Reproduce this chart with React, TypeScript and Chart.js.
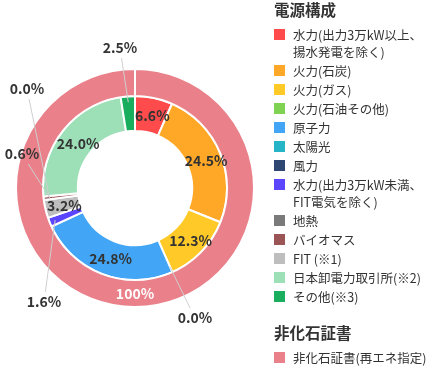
import React, { useEffect, useRef } from "react";
import { Chart, registerables } from "chart.js";

Chart.register(...registerables);

// ---- data (drawing order, clockwise from top) ----
const SOURCE_NAMES = [
  "水力(出力3万kW以上、\n揚水発電を除く)",
  "火力(石炭)",
  "火力(ガス)",
  "火力(石油その他)",
  "原子力",
  "太陽光",
  "風力",
  "水力(出力3万kW未満、\nFIT電気を除く)",
  "FIT (※1)",
  "地熱",
  "バイオマス",
  "日本卸電力取引所(※2)",
  "その他(※3)",
];
const SOURCE_VALUES: (number | null)[] = [6.6, 24.5, 12.3, 0.0, 24.8, null, null, 1.6, 3.2, 0.0, 0.6, 24.0, 2.5];
const SOURCE_COLORS = [
  "#FF4B4B", "#FFA726", "#FFCA28", "#7ED352", "#42A5F5", "#26B5C6", "#2E4672",
  "#5B45FF", "#BEBEBE", "#7A7A7A", "#9C5557", "#9DE0B8", "#18AE5E",
];
// legend order (indices into the arrays above)
const LEGEND_ORDER = [0, 1, 2, 3, 4, 5, 6, 7, 9, 10, 8, 11, 12];

const CERT_NAMES = ["非化石証書(再エネ指定)"];
const CERT_VALUES = [100];
const CERT_COLORS = ["#E9808A"];

const TITLE_SOURCES = "電源構成";
const TITLE_CERT = "非化石証書";

// labels placed outside with leader lines: index -> offset of label centre from chart centre
const OUTSIDE_LABELS: Record<number, [number, number]> = {
  12: [-15, -140],
  9: [-108, -99],
  10: [-113, -34],
  7: [-91, 114],
  3: [60, 130],
};

const FONT = "'Noto Sans CJK JP', 'Noto Sans', sans-serif";

const fmt = (v: number) => v.toFixed(1) + "%";

const labelPlugin = {
  id: "sliceLabels",
  afterDatasetsDraw(chart: any) {
    const ctx = chart.ctx;
    ctx.save();
    ctx.textAlign = "center";
    ctx.textBaseline = "middle";

    // outer ring label
    const outerMeta = chart.getDatasetMeta(0);
    outerMeta.data.forEach((arc: any, i: number) => {
      const p = arc.getCenterPoint();
      ctx.font = "bold 14px " + FONT;
      ctx.fillStyle = "#ffffff";
      ctx.fillText(CERT_VALUES[i] + "%", p.x, p.y);
    });

    const meta = chart.getDatasetMeta(1);
    meta.data.forEach((arc: any, i: number) => {
      const v = SOURCE_VALUES[i];
      if (v === null || v === undefined) return;
      const { x, y, startAngle, endAngle, innerRadius, outerRadius } = arc.getProps(
        ["x", "y", "startAngle", "endAngle", "innerRadius", "outerRadius"],
        true
      );
      const mid = (startAngle + endAngle) / 2;
      ctx.font = "bold 14px " + FONT;
      const text = fmt(v);
      if (OUTSIDE_LABELS[i]) {
        const [ox, oy] = OUTSIDE_LABELS[i];
        const lx = x + ox;
        const ly = y + oy;
        const r = outerRadius - 6;
        const ax = x + Math.cos(mid) * r;
        const ay = y + Math.sin(mid) * r;
        const w = ctx.measureText(text).width / 2 + 2;
        const h = 10;
        const dx = ax - lx;
        const dy = ay - ly;
        const t = Math.min(Math.abs(dx) > 0 ? w / Math.abs(dx) : 1e9, Math.abs(dy) > 0 ? h / Math.abs(dy) : 1e9);
        ctx.strokeStyle = "#cfcfcf";
        ctx.lineWidth = 1;
        ctx.beginPath();
        ctx.moveTo(lx + dx * t, ly + dy * t);
        ctx.lineTo(ax, ay);
        ctx.stroke();
        ctx.fillStyle = "#333333";
        ctx.fillText(text, lx, ly);
      } else if (v >= 3) {
        const r = (innerRadius + outerRadius) / 2;
        ctx.fillStyle = "#333333";
        ctx.fillText(text, x + Math.cos(mid) * r + 2, y + Math.sin(mid) * r + 1);
      }
    });
    ctx.restore();
  },
};

function LegendItem({ name, color }: { name: string; color: string }) {
  return (
    <div style={{ display: "flex", alignItems: "flex-start", marginBottom: 2 }}>
      <div style={{ width: 11, height: 11, background: color, marginTop: 3, marginRight: 8, flex: "0 0 auto" }} />
      <div style={{ fontSize: 12.5, lineHeight: "17px", whiteSpace: "pre-line", color: "#333" }}>{name}</div>
    </div>
  );
}

export default function App() {
  const ref = useRef<HTMLCanvasElement | null>(null);

  useEffect(() => {
    if (!ref.current) return;
    const chart = new Chart(ref.current, {
      type: "doughnut",
      data: {
        labels: SOURCE_NAMES,
        datasets: [
          {
            label: TITLE_CERT,
            data: CERT_VALUES,
            backgroundColor: CERT_COLORS,
            borderColor: "#ffffff",
            borderWidth: 2,
            weight: 27,
          } as any,
          {
            label: TITLE_SOURCES,
            data: SOURCE_VALUES,
            backgroundColor: SOURCE_COLORS,
            borderColor: "#ffffff",
            borderWidth: 2,
            weight: 35,
          } as any,
        ],
      },
      options: {
        responsive: false,
        devicePixelRatio: 1,
        animation: false,
        radius: 119,
        cutout: "48%",
        layout: { padding: { left: 0, right: 166, top: 10, bottom: 0 } },
        plugins: {
          legend: { display: false },
          tooltip: { enabled: false },
        },
      } as any,
      plugins: [labelPlugin],
    });
    return () => chart.destroy();
  }, []);

  return (
    <div style={{ position: "absolute", left: 0, top: 0, width: 436, height: 366, fontFamily: FONT }}>
      <canvas ref={ref} width={436} height={366} style={{ position: "absolute", left: 0, top: 0 }} />
      <div style={{ position: "absolute", left: 274, top: 0 }}>
        <div style={{ fontSize: 15.5, lineHeight: "19px", fontWeight: 700, color: "#333" }}>{TITLE_SOURCES}</div>
        <div style={{ marginTop: 6.5 }}>
          {LEGEND_ORDER.map((i) => (
            <LegendItem key={i} name={SOURCE_NAMES[i]} color={SOURCE_COLORS[i]} />
          ))}
        </div>
      </div>
      <div style={{ position: "absolute", left: 274, top: 323 }}>
        <div style={{ fontSize: 15.5, lineHeight: "19px", fontWeight: 700, color: "#333" }}>{TITLE_CERT}</div>
        <div style={{ marginTop: 6.5 }}>
          {CERT_NAMES.map((n, i) => (
            <LegendItem key={n} name={n} color={CERT_COLORS[i]} />
          ))}
        </div>
      </div>
    </div>
  );
}
